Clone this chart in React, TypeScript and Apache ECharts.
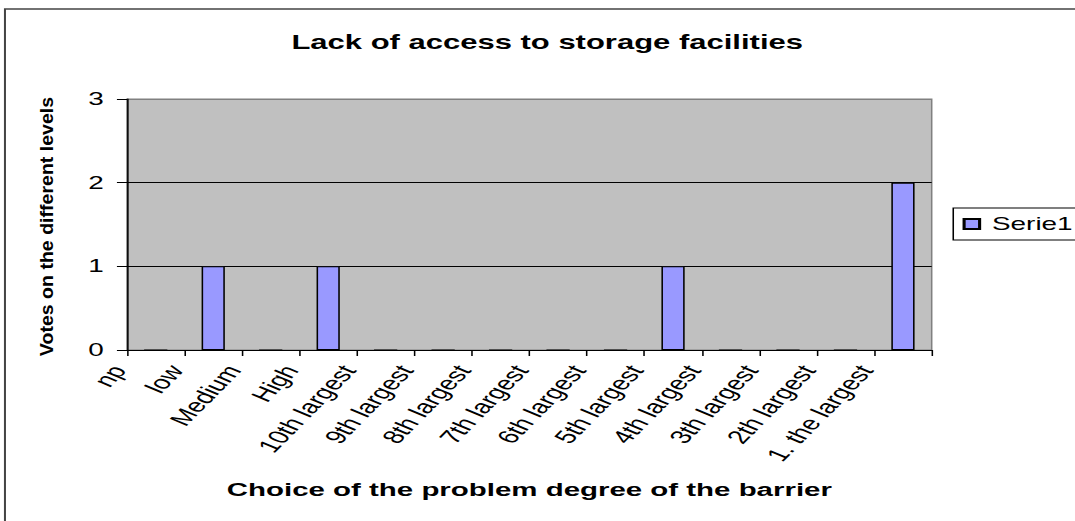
import React, { useEffect, useRef } from "react";
import * as echarts from "echarts";

const categories = [
  "np",
  "low",
  "Medium",
  "High",
  "10th largest",
  "9th largest",
  "8th largest",
  "7th largest",
  "6th largest",
  "5th largest",
  "4th largest",
  "3th largest",
  "2th largest",
  "1. the largest",
];
const serie1Values = [0, 1, 0, 1, 0, 0, 0, 0, 0, 1, 0, 0, 0, 2];
const yTicks = [0, 1, 2, 3];
const seriesName = "Serie1";
const titleText = "Lack of access to storage facilities";
const xAxisTitle = "Choice of the problem degree of the barrier";
const yAxisTitle = "Votes on the different levels";

const STRETCH = 1.55;
const FULL_W = 1075;
const FULL_H = 521;
const BASE_W = FULL_W / STRETCH;
const FONT = "'Liberation Sans', Arial, Helvetica, sans-serif";

export default function App() {
  const ref = useRef<HTMLDivElement>(null);

  useEffect(() => {
    if (!ref.current) return;
    const chart = echarts.init(ref.current, null, { renderer: "svg" });
    const gridLeft = 127 / STRETCH;
    const gridRight = BASE_W - 931 / STRETCH;
    chart.setOption({
      animation: false,
      backgroundColor: "#ffffff",
      textStyle: { fontFamily: FONT },
      title: {
        text: titleText,
        left: 188,
        top: 32,
        padding: 0,
        textStyle: { fontSize: 20, fontWeight: "bold", color: "#000", fontFamily: FONT },
      },
      legend: {
        data: [seriesName],
        orient: "vertical",
        left: 615,
        top: 208,
        padding: [7, 10, 7, 6],
        borderColor: "#000",
        borderWidth: 1,
        backgroundColor: "#fff",
        borderRadius: 0,
        itemWidth: 10,
        itemHeight: 10,
        icon: "rect",
        textStyle: { fontSize: 18, color: "#000", fontFamily: FONT, padding: [0, 0, 0, 3] },
      },
      grid: {
        left: gridLeft,
        right: gridRight,
        top: 99,
        bottom: FULL_H - 350,
        show: true,
        backgroundColor: "#C0C0C0",
        borderColor: "#808080",
        borderWidth: 1,
      },
      xAxis: {
        type: "category",
        data: categories,
        boundaryGap: true,
        name: xAxisTitle,
        nameLocation: "middle",
        nameGap: 130,
        nameMoveOverlap: false,
        nameTextStyle: { fontSize: 19, fontWeight: "bold", color: "#000", fontFamily: FONT },
        axisLine: { show: true, lineStyle: { color: "#000", width: 1 } },
        axisTick: { show: true, alignWithLabel: false, length: 6, lineStyle: { color: "#000" } },
        axisLabel: {
          interval: 0,
          rotate: 57.2,
          fontSize: 19,
          color: "#000",
          fontFamily: FONT,
          margin: -20,
          padding: [0, 44, 0, 0],
          hideOverlap: false,
        },
        splitLine: { show: false },
      },
      yAxis: {
        type: "value",
        min: 0,
        max: 3,
        interval: 1,
        axisLine: { show: true, lineStyle: { color: "#000", width: 1 } },
        axisTick: { show: true, length: 6.5, lineStyle: { color: "#000" } },
        axisLabel: {
          fontSize: 18,
          color: "#000",
          fontFamily: FONT,
          margin: 15,
          formatter: (v: number) => (yTicks.includes(v) ? String(v) : ""),
        },
        splitLine: {
          show: true,
          lineStyle: { color: ["#000", "#000", "#000", "#808080"], width: 1 },
        },
      },
      series: [
        {
          name: seriesName,
          type: "bar",
          data: serie1Values,
          barWidth: 15,
          itemStyle: { color: "#9999FF", borderColor: "#000", borderWidth: 1 },
        },
      ],
      graphic: [
        {
          type: "rect",
          silent: true,
          shape: { x: 3.2, y: 9, width: 1000, height: 1000 },
          style: { fill: "none", stroke: "#444", lineWidth: 1.3 },
        },
        {
          type: "text",
          x: 30.3,
          y: 226.5,
          rotation: Math.PI / 2,
          scaleX: 1.03,
          scaleY: 1 / STRETCH,
          style: {
            text: yAxisTitle,
            fontSize: 19,
            fontWeight: "bold",
            fontFamily: FONT,
            fill: "#000",
            align: "center",
            verticalAlign: "middle",
          },
        },
      ],
    });
    return () => chart.dispose();
  }, []);

  return (
    <div
      ref={ref}
      style={{
        position: "absolute",
        left: 0,
        top: 0,
        width: BASE_W + "px",
        height: FULL_H + "px",
        transform: `scaleX(${STRETCH})`,
        transformOrigin: "0 0",
        overflow: "hidden",
      }}
    />
  );
}
